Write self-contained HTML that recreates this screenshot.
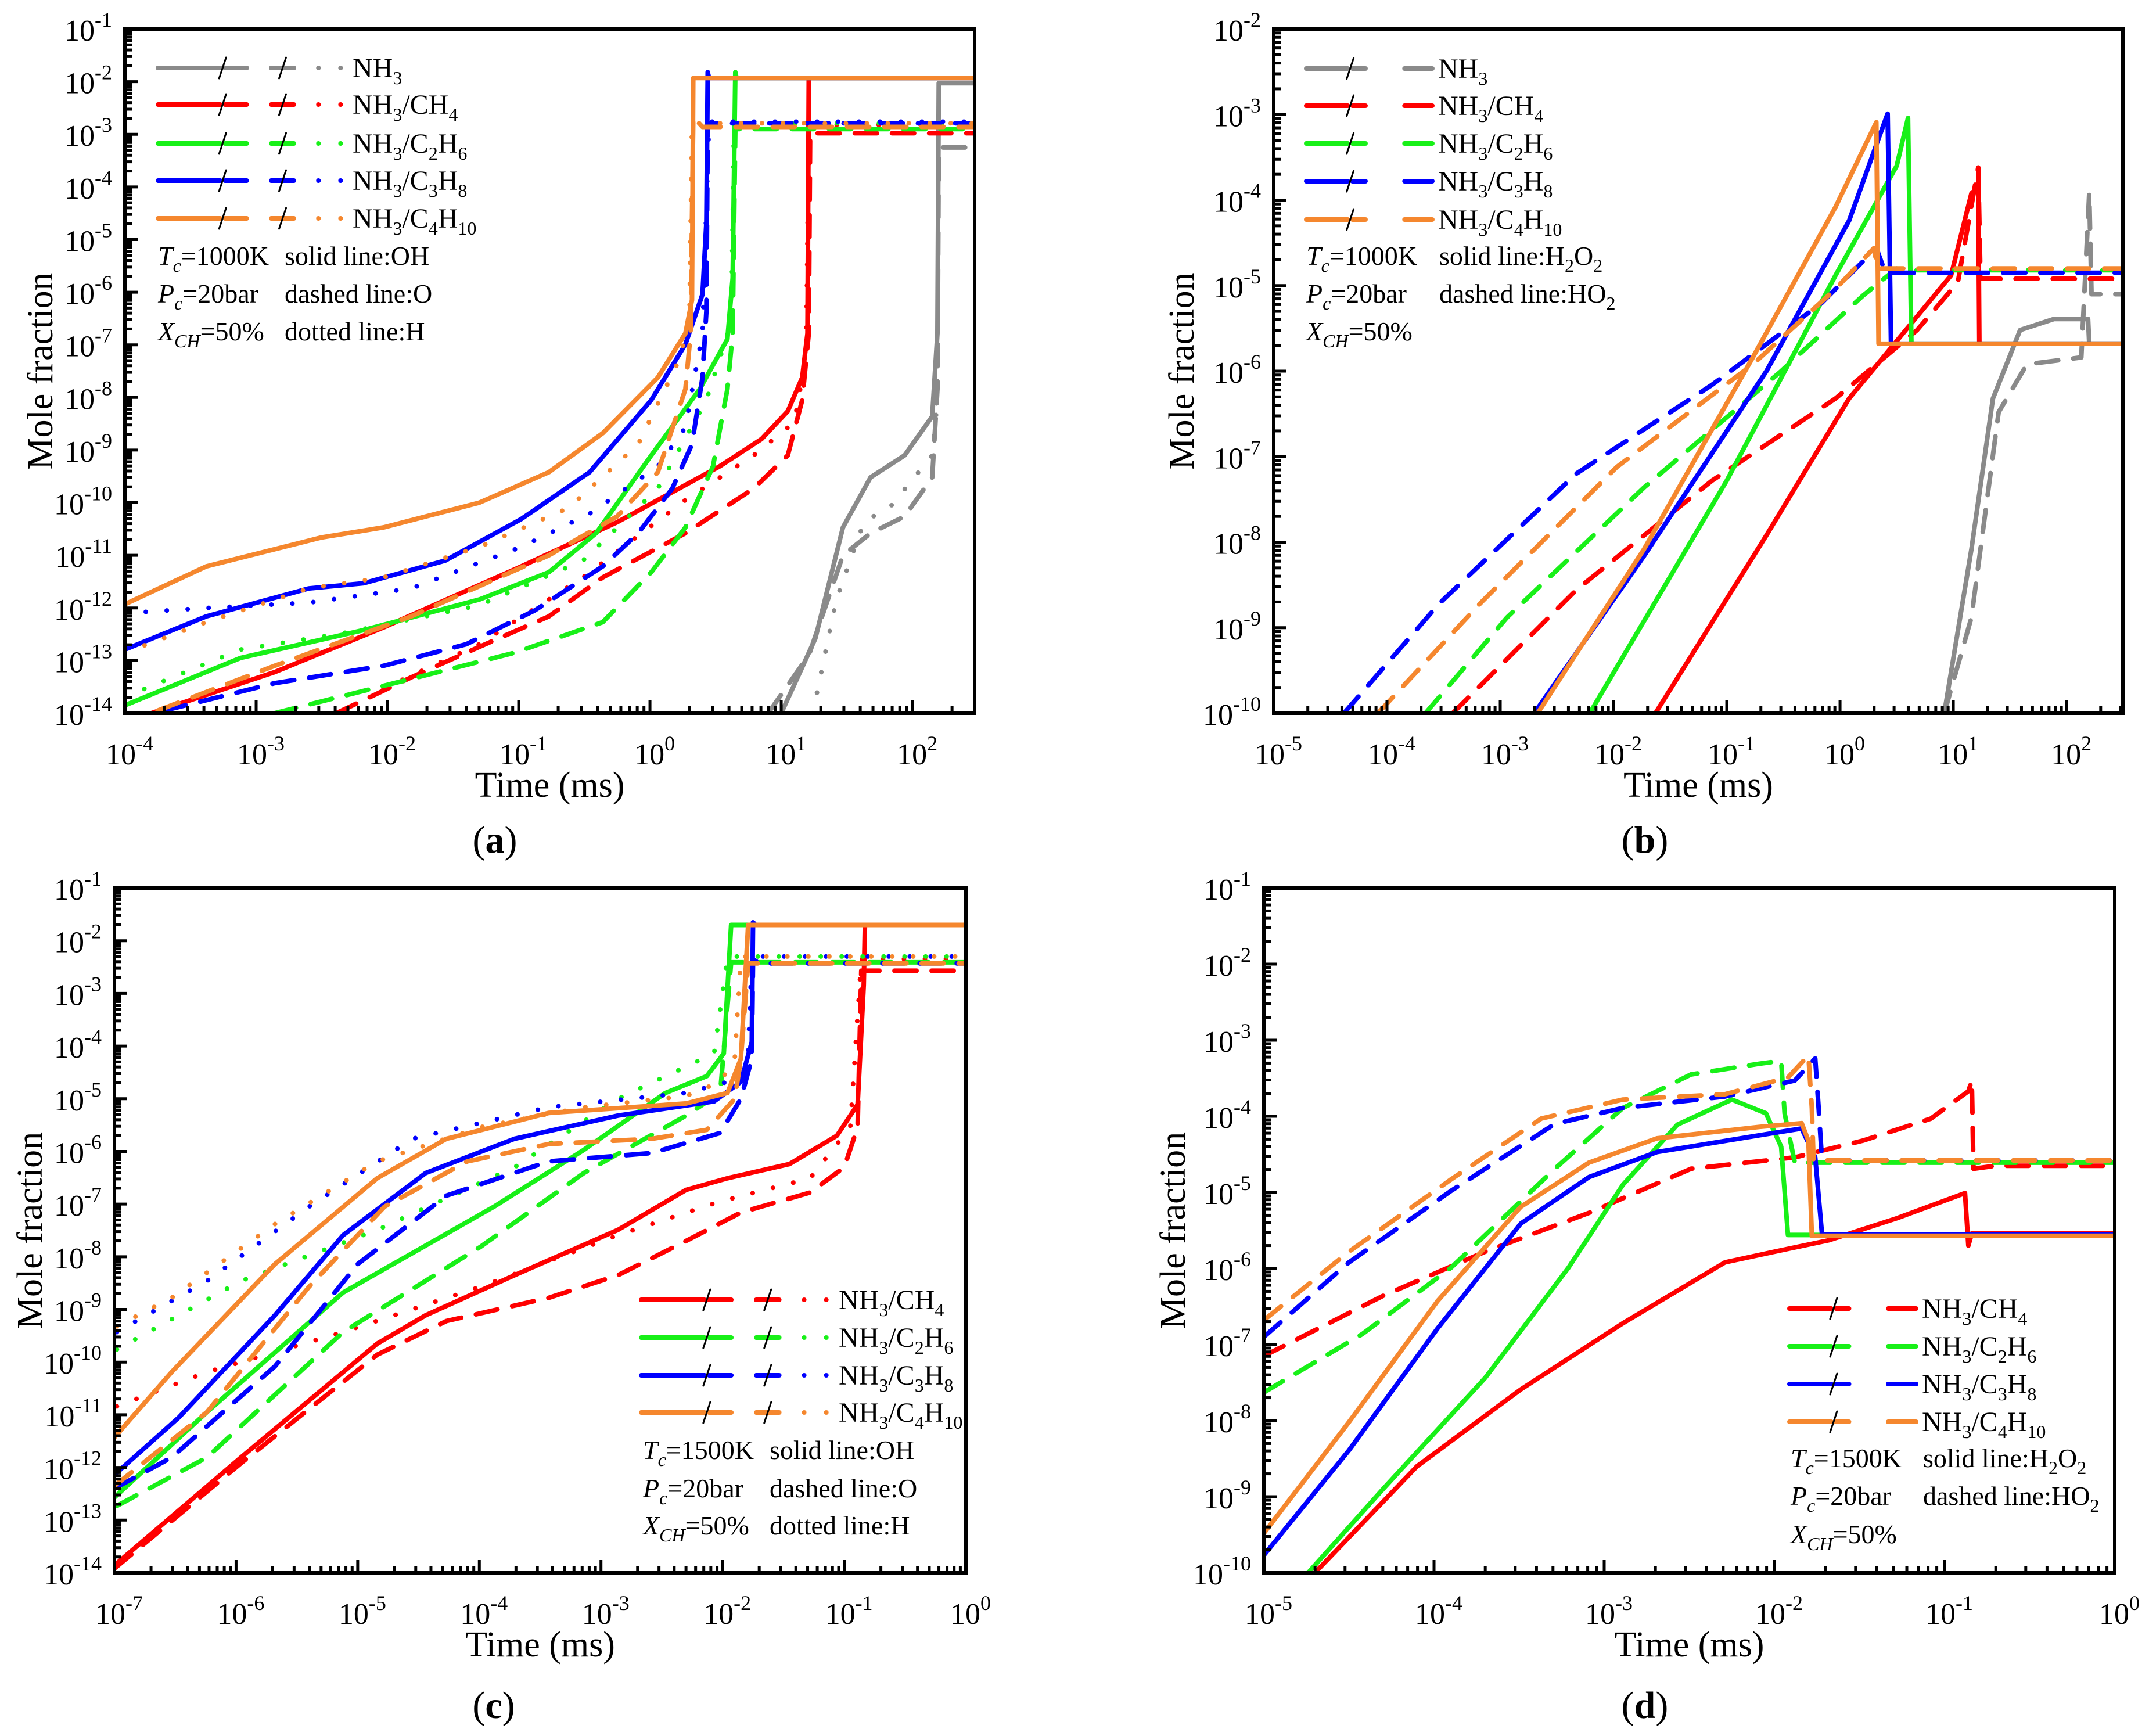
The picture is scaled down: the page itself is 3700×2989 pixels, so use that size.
<!DOCTYPE html>
<html><head><meta charset="utf-8">
<style>
html,body{margin:0;padding:0;background:#fff;}
svg,svg text{font-family:"Liberation Serif",serif;}
svg{display:block;}
</style></head>
<body>
<svg id="fig" xmlns="http://www.w3.org/2000/svg" width="3700" height="2989" viewBox="0 0 3700 2989" font-family="Liberation Serif, serif"></svg>
<script>
// ===== Panel (a): OH (solid), O (dashed), H (dotted), Tc=1000K; values are [log10 t(ms), log10 X]
const a_NH3_OH=[[1.0,-14],[1.26,-12.58],[1.47,-10.47],[1.68,-9.52],[1.94,-9.1],[2.15,-8.36],[2.19,-6.78],[2.2,-2.03],[2.5,-2.03]];
const a_NH3_O=[[0.9,-14],[1.21,-12.9],[1.47,-11.0],[1.68,-10.58],[1.94,-10.26],[2.15,-9.52],[2.19,-7.84],[2.2,-3.25],[2.5,-3.25]];
const a_NH3_H=[[1.24,-14],[1.42,-11.84],[1.63,-10.37],[1.84,-10.05],[2.15,-9.1],[2.19,-8.05]];
const a_CH4_OH=[[-3.8,-14],[-2.86,-13.22],[-2.03,-12.37],[-0.98,-11.21],[-0.25,-10.37],[0.53,-9.31],[0.85,-8.79],[1.05,-8.26],[1.16,-7.62],[1.2,-6.78],[1.21,-1.93],[2.5,-1.93]];
const a_CH4_O=[[-2.39,-14],[-1.82,-13.32],[-1.3,-12.74],[-0.77,-12.16],[-0.36,-11.42],[0.27,-10.58],[0.79,-9.73],[1.05,-9.1],[1.16,-8.05],[1.21,-6.78],[1.22,-2.98],[2.5,-2.98]];
const a_CH4_H=[[-2.03,-13.53],[-1.3,-12.69],[-0.51,-11.42],[0.27,-9.95],[0.79,-9.1],[1.1,-8.47],[1.19,-7.2],[1.21,-2.82],[2.5,-2.82]];
const a_C2H6_OH=[[-4,-13.85],[-3.12,-12.95],[-2.18,-12.42],[-1.3,-11.84],[-0.77,-11.32],[-0.41,-10.58],[0.01,-9.1],[0.38,-7.84],[0.59,-6.89],[0.63,-5.73],[0.65,-1.82],[0.66,-1.93],[2.5,-1.93]];
const a_C2H6_O=[[-2.86,-14],[-2.03,-13.48],[-1.03,-12.85],[-0.36,-12.27],[0.01,-11.32],[0.27,-10.47],[0.48,-9.31],[0.59,-7.84],[0.63,-6.78],[0.65,-2.9],[2.5,-2.9]];
const a_C2H6_H=[[-4,-13.69],[-3.12,-12.79],[-2.34,-12.48],[-1.3,-11.95],[-0.51,-11.1],[0.06,-9.73],[0.43,-8.05],[0.62,-6.57],[0.64,-2.79],[2.5,-2.79]];
const a_C3H8_OH=[[-4,-12.79],[-3.38,-12.16],[-2.6,-11.63],[-2.18,-11.53],[-1.56,-11.1],[-0.98,-10.31],[-0.46,-9.42],[0.01,-8.05],[0.27,-6.99],[0.4,-6.04],[0.43,-4.67],[0.44,-1.82],[0.45,-1.93],[2.5,-1.93]];
const a_C3H8_O=[[-3.7,-13.95],[-2.86,-13.43],[-2.03,-13.1],[-1.4,-12.69],[-0.88,-12.05],[-0.36,-11.21],[-0.09,-10.58],[0.17,-9.73],[0.32,-8.89],[0.4,-7.62],[0.43,-6.36],[0.44,-2.79],[2.5,-2.79]];
const a_C3H8_H=[[-4,-12.1],[-3.38,-12.0],[-2.6,-11.9],[-1.82,-11.63],[-0.98,-10.84],[-0.46,-10.21],[0.06,-9.31],[0.27,-8.57],[0.4,-6.78],[0.45,-2.76],[2.5,-2.76]];
const a_C4H10_OH=[[-4,-11.93],[-3.38,-11.21],[-2.5,-10.66],[-2.03,-10.47],[-1.3,-10.0],[-0.77,-9.42],[-0.36,-8.68],[0.06,-7.62],[0.27,-6.78],[0.32,-6.15],[0.33,-1.93],[2.5,-1.93]];
const a_C4H10_O=[[-3.75,-13.95],[-2.86,-13.1],[-1.82,-12.16],[-0.77,-11.0],[-0.25,-10.26],[0.06,-9.42],[0.27,-7.84],[0.31,-6.78],[0.33,-2.67],[0.4,-2.86],[2.5,-2.86]];
const a_C4H10_H=[[-4,-12.85],[-3.38,-12.27],[-2.6,-11.63],[-2.03,-11.42],[-1.3,-10.84],[-0.62,-10.1],[-0.09,-8.89],[0.22,-7.3],[0.3,-6.57],[0.32,-2.79],[2.5,-2.79]];
// ===== Panel (b): H2O2 (solid), HO2 (dashed), Tc=1000K
const b_NH3_H2O2=[[0.92,-10],[1.16,-8.08],[1.35,-6.32],[1.59,-5.52],[1.89,-5.39],[2.19,-5.39],[2.2,-5.68],[2.5,-5.68]];
const b_NH3_HO2=[[0.92,-10],[1.16,-8.88],[1.4,-6.48],[1.65,-5.92],[2.13,-5.84],[2.2,-3.92],[2.22,-5.1],[2.5,-5.1]];
const b_CH4_H2O2=[[-1.63,-10],[-0.65,-7.92],[0.08,-6.32],[0.68,-5.36],[0.98,-4.88],[1.16,-3.92],[1.22,-3.85],[1.23,-5.68],[2.5,-5.68]];
const b_CH4_HO2=[[-3.42,-10],[-2.33,-8.56],[-1.13,-7.28],[-0.04,-6.32],[0.68,-5.52],[1.04,-4.96],[1.22,-3.62],[1.24,-4.92],[2.5,-4.92]];
const b_C2H6_H2O2=[[-2.21,-10],[-1.0,-7.28],[-0.04,-4.88],[0.5,-3.6],[0.6,-3.04],[0.63,-5.68],[2.5,-5.68]];
const b_C2H6_HO2=[[-3.66,-10],[-2.94,-8.88],[-1.73,-7.36],[-0.52,-6.0],[0.2,-5.12],[0.5,-4.8],[0.6,-4.82],[2.5,-4.82]];
const b_C3H8_H2O2=[[-2.7,-10],[-1.73,-8.16],[-0.65,-6.0],[0.08,-4.24],[0.34,-3.28],[0.42,-2.99],[0.45,-5.68],[2.5,-5.68]];
const b_C3H8_HO2=[[-4.38,-10],[-3.54,-8.72],[-2.33,-7.2],[-1.13,-6.16],[-0.16,-5.2],[0.32,-4.56],[0.4,-4.85],[2.5,-4.85]];
const b_C4H10_H2O2=[[-2.67,-10],[-1.73,-8.08],[-0.77,-5.84],[-0.04,-4.08],[0.32,-3.09],[0.34,-5.68],[2.5,-5.68]];
const b_C4H10_HO2=[[-4.08,-10],[-3.18,-8.72],[-1.97,-7.12],[-0.77,-5.92],[-0.04,-5.04],[0.3,-4.56],[0.33,-4.8],[2.5,-4.8]];
// ===== Panel (c): OH / O / H, Tc=1500K
const c_CH4_OH=[[-7,-13.86],[-5.96,-11.81],[-4.84,-9.65],[-4.44,-9.11],[-3.71,-8.35],[-2.86,-7.49],[-2.3,-6.73],[-1.96,-6.51],[-1.45,-6.24],[-1.06,-5.7],[-0.89,-5.11],[-0.84,-2.84],[-0.83,-1.7],[0,-1.7]];
const c_CH4_O=[[-7,-13.92],[-5.96,-11.92],[-4.84,-9.86],[-4.27,-9.22],[-3.43,-8.78],[-2.86,-8.35],[-2.3,-7.7],[-1.85,-7.16],[-1.28,-6.78],[-1.0,-6.3],[-0.89,-5.54],[-0.86,-2.57],[0,-2.57]];
const c_CH4_H=[[-6.98,-10.84],[-6.24,-10.19],[-5.12,-9.43],[-3.99,-8.57],[-2.86,-7.59],[-2.02,-6.95],[-1.28,-6.51],[-0.95,-5.54],[-0.86,-2.35],[0,-2.35]];
const c_C2H6_OH=[[-7,-12.57],[-6.24,-10.95],[-5.12,-8.68],[-3.88,-7.05],[-3.14,-5.97],[-2.47,-4.89],[-2.13,-4.57],[-1.99,-4.14],[-1.93,-1.7],[0,-1.7]];
const c_C2H6_O=[[-6.98,-12.73],[-6.24,-11.81],[-5.12,-9.43],[-3.99,-7.81],[-3.14,-6.41],[-2.3,-5.32],[-2.02,-4.89],[-1.93,-2.41],[0,-2.41]];
const c_C2H6_H=[[-6.98,-9.76],[-5.96,-8.46],[-4.84,-7.49],[-3.71,-6.3],[-2.86,-5.0],[-2.07,-4.14],[-1.96,-2.3],[0,-2.3]];
const c_C3H8_OH=[[-7,-12.14],[-6.47,-11.05],[-5.68,-9.11],[-5.12,-7.59],[-4.44,-6.41],[-3.71,-5.76],[-2.86,-5.32],[-2.07,-5.05],[-1.85,-4.68],[-1.76,-3.92],[-1.75,-1.65],[-1.73,-1.7],[0,-1.7]];
const c_C3H8_O=[[-7,-12.4],[-6.53,-11.81],[-5.68,-10.08],[-5.0,-8.14],[-4.27,-6.84],[-3.43,-6.19],[-2.58,-6.03],[-2.02,-5.65],[-1.85,-5.0],[-1.76,-4.24],[-1.75,-2.35],[-1.7,-2.43],[0,-2.43]];
const c_C3H8_H=[[-6.98,-9.43],[-6.24,-8.46],[-5.4,-7.05],[-4.55,-5.76],[-3.43,-5.16],[-2.3,-4.89],[-1.96,-4.68],[-1.79,-4.14],[-1.76,-2.3],[0,-2.3]];
const c_C4H10_OH=[[-7,-11.43],[-6.53,-10.19],[-5.68,-8.14],[-4.84,-6.51],[-4.27,-5.76],[-3.43,-5.27],[-2.3,-5.09],[-1.96,-4.89],[-1.85,-4.24],[-1.79,-1.7],[0,-1.7]];
const c_C4H10_O=[[-7,-12.35],[-6.24,-10.95],[-5.4,-8.57],[-4.78,-7.05],[-4.1,-6.19],[-3.43,-5.86],[-2.58,-5.76],[-2.13,-5.59],[-1.9,-5.0],[-1.85,-4.24],[-1.79,-2.43],[0,-2.43]];
const c_C4H10_H=[[-6.98,-9.32],[-6.53,-8.78],[-5.68,-7.38],[-4.84,-6.19],[-3.99,-5.54],[-3.14,-5.16],[-2.3,-4.95],[-2.02,-4.68],[-1.9,-4.24],[-1.85,-2.3],[0,-2.3]];
// ===== Panel (d): H2O2 / HO2, Tc=1500K
const d_CH4_H2O2=[[-4.7,-10],[-4.1,-8.6],[-3.49,-7.59],[-2.89,-6.72],[-2.29,-5.92],[-2.0,-5.78],[-1.68,-5.63],[-1.28,-5.34],[-0.88,-5.01],[-0.86,-5.7],[-0.84,-5.54],[0,-5.54]];
const d_CH4_HO2=[[-5,-7.15],[-4.3,-6.36],[-3.7,-5.78],[-3.09,-5.27],[-2.49,-4.69],[-1.88,-4.54],[-1.48,-4.32],[-1.08,-4.03],[-0.86,-3.67],[-0.84,-3.53],[-0.83,-4.69],[-0.7,-4.65],[0,-4.65]];
const d_C2H6_H2O2=[[-4.74,-10],[-4.3,-8.9],[-3.7,-7.44],[-3.21,-5.99],[-2.89,-4.9],[-2.57,-4.11],[-2.25,-3.78],[-2.05,-3.96],[-1.96,-4.4],[-1.92,-5.56],[0,-5.56]];
const d_C2H6_HO2=[[-5,-7.63],[-4.42,-6.86],[-3.9,-5.99],[-3.29,-4.69],[-2.89,-3.89],[-2.49,-3.45],[-2.09,-3.31],[-1.96,-3.27],[-1.94,-3.96],[-1.88,-4.61],[0,-4.61]];
const d_C3H8_H2O2=[[-5,-9.77],[-4.5,-8.39],[-3.98,-6.79],[-3.49,-5.41],[-3.09,-4.8],[-2.69,-4.47],[-2.09,-4.25],[-1.84,-4.16],[-1.76,-4.54],[-1.72,-5.55],[0,-5.55]];
const d_C3H8_HO2=[[-5,-6.9],[-4.5,-5.92],[-3.9,-4.98],[-3.29,-4.1],[-2.89,-3.89],[-2.29,-3.74],[-1.88,-3.53],[-1.76,-3.24],[-1.74,-3.89],[-1.72,-4.58],[0,-4.58]];
const d_C4H10_H2O2=[[-5,-9.48],[-4.5,-8.02],[-3.98,-6.43],[-3.49,-5.19],[-3.09,-4.61],[-2.69,-4.29],[-2.09,-4.14],[-1.84,-4.09],[-1.8,-4.32],[-1.78,-5.57],[0,-5.57]];
const d_C4H10_HO2=[[-5,-6.68],[-4.5,-5.78],[-3.9,-4.83],[-3.37,-4.03],[-2.89,-3.78],[-2.29,-3.71],[-1.92,-3.49],[-1.8,-3.2],[-1.78,-3.89],[-1.77,-4.58],[0,-4.58]];

const COL={NH3:'#8a8a8a',CH4:'#ff0000',C2H6:'#18f018',C3H8:'#0000ff',C4H10:'#f5872e'};
const DASH={solid:null,dashed:'38 26',dotted:'0.1 36'};
const NS='http://www.w3.org/2000/svg';
const FONT='Liberation Serif, serif';
const svg=document.getElementById('fig');
function mk(tag,attrs,parent){const e=document.createElementNS(NS,tag);for(const k in attrs)e.setAttribute(k,attrs[k]);if(tag==='text')e.setAttribute('font-family',FONT);(parent||svg).appendChild(e);return e;}

function makeAxes(p){
  const g=mk('g',{});
  
  
  const sx=v=>p.x0+(v-p.xmin)/(p.xmax-p.xmin)*(p.x1-p.x0);
  const sy=v=>p.y1-(v-p.ymin)/(p.ymax-p.ymin)*(p.y1-p.y0);
  p.sx=sx;p.sy=sy;p.g=g;
  const cp=mk('clipPath',{id:'clip-'+p.id},g);
  mk('rect',{x:p.x0,y:p.y0,width:p.x1-p.x0,height:p.y1-p.y0},cp);
  p.plot=mk('g',{'clip-path':'url(#clip-'+p.id+')'},g);
  
  
  const tg=mk('g',{stroke:'#000','stroke-width':5},g);
  for(let d=Math.floor(p.xmin);d<=Math.ceil(p.xmax);d++){
    for(let m=1;m<10;m++){const v=d+Math.log10(m);if(v<p.xmin-1e-6||v>p.xmax+1e-6)continue;
      const X=sx(v),L=m===1?22:12;mk('line',{x1:X,x2:X,y1:p.y1,y2:p.y1-L},tg);}
  }
  for(let d=Math.floor(p.ymin);d<=Math.ceil(p.ymax);d++){
    for(let m=1;m<10;m++){const v=d+Math.log10(m);if(v<p.ymin-1e-6||v>p.ymax+1e-6)continue;
      const Y=sy(v),L=m===1?22:12;mk('line',{x1:p.x0,x2:p.x0+L,y1:Y,y2:Y},tg);}
  }
  const fr=mk('rect',{x:p.x0,y:p.y0,width:p.x1-p.x0,height:p.y1-p.y0,fill:'none',stroke:'#000','stroke-width':6},g);
  
  
  for(let d=Math.ceil(p.xmin);d<=Math.floor(p.xmax);d++){
    const t=mk('text',{x:sx(d)+8,y:p.y1+88,'font-size':52,'text-anchor':'middle',fill:'#000'},g);
    
    
    t.appendChild(document.createTextNode('10'));
    const s=mk('tspan',{dy:-24,'font-size':36},t);s.textContent=String(d);
  }
  for(let d=Math.ceil(p.ymin);d<=Math.floor(p.ymax);d++){
    const t=mk('text',{x:p.x0-22,y:sy(d)+20,'font-size':52,'text-anchor':'end',fill:'#000'},g);
    
    
    t.appendChild(document.createTextNode('10'));
    const s=mk('tspan',{dy:-24,'font-size':36},t);s.textContent=String(d);
  }
  const yt=mk('text',{x:p.ytx,y:(p.y0+p.y1)/2,'font-size':62,'text-anchor':'middle',transform:'rotate(-90 '+p.ytx+' '+((p.y0+p.y1)/2)+')'},g);
  
  
  yt.textContent='Mole fraction';
  const xt=mk('text',{x:(p.x0+p.x1)/2,y:p.xty,'font-size':62,'text-anchor':'middle'},g);
  
  
  xt.textContent='Time (ms)';
  const pl=mk('text',{x:p.plx,y:p.ply,'font-size':66,'text-anchor':'middle'},g);
  
  
  pl.appendChild(document.createTextNode('('));
  const b=mk('tspan',{'font-weight':'bold'},pl);b.textContent=p.id;
  pl.appendChild(document.createTextNode(')'));
}
function series(p,data,fuel,style){
  const d=data.map((q,i)=>(i?'L':'M')+p.sx(q[0]).toFixed(1)+' '+p.sy(q[1]).toFixed(1)).join(' ');
  const a={d:d,fill:'none',stroke:COL[fuel],'stroke-width':8,'stroke-linecap':'round','stroke-linejoin':'round'};
  if(DASH[style])a['stroke-dasharray']=DASH[style];
  const e=mk('path',a,p.plot);
  
  
}
function fuelLabel(t,fuel){
  const parts={NH3:[['NH'],['3',1]],CH4:[['NH'],['3',1],['/CH'],['4',1]],C2H6:[['NH'],['3',1],['/C'],['2',1],['H'],['6',1]],
   C3H8:[['NH'],['3',1],['/C'],['3',1],['H'],['8',1]],C4H10:[['NH'],['3',1],['/C'],['4',1],['H'],['10',1]]}[fuel];
  let sub=false;
  parts.forEach(q=>{const s=mk('tspan',{},t);
    if(q[1]&&!sub){s.setAttribute('dy',12);s.setAttribute('font-size',32);sub=true;}
    else if(!q[1]&&sub){s.setAttribute('dy',-12);sub=false;}
    else if(q[1]){s.setAttribute('font-size',32);}
    s.textContent=q[0];});
}
function legend(p,fuels,x0,x1,ys,dots){
  const g=mk('g',{},p.g);
  
  
  fuels.forEach((f,i)=>{
    const y=ys[i],c=COL[f],w=x1-x0;
    const e=mk('g',{stroke:c,'stroke-width':8,'stroke-linecap':'round',fill:'none'},g);
    
    
    const xs=x0+w*0.33,xd=x0+w*0.47;
    mk('line',{x1:x0,x2:xs,y1:y,y2:y},e);
    mk('line',{x1:xs+8,x2:xd,y1:y,y2:y},e);
    if(dots){
      mk('line',{x1:x0+w*0.6,x2:x0+w*0.72,y1:y,y2:y},e);
      mk('line',{x1:x0+w*0.85,x2:x1,y1:y,y2:y,'stroke-dasharray':'0.1 38'},e);
      mk('line',{x1:x0+w*0.66-6,x2:x0+w*0.66+6,y1:y+18,y2:y-18,stroke:'#000','stroke-width':3},e);
    }else{
      mk('line',{x1:x0+w*0.78,x2:x1,y1:y,y2:y},e);
    }
    mk('line',{x1:xs+4-6,x2:xs+4+6,y1:y+18,y2:y-18,stroke:'#000','stroke-width':3},e);
    const t=mk('text',{x:x1+10,y:y+16,'font-size':48,fill:'#000'},g);
    fuelLabel(t,f);
  });
}
function notes(p,x1,x2,ys,T,s1,s2,s3){
  const g=mk('g',{'font-size':46,fill:'#000'},p.g);
  
  
  const lhs=[['T','c','='+T],['P','c','=20bar'],['X','CH','=50%']];
  const rhs=[s1,s2,s3];
  lhs.forEach((l,i)=>{
    const t=mk('text',{x:x1,y:ys[i]},g);
    const a=mk('tspan',{'font-style':'italic'},t);a.textContent=l[0];
    const b=mk('tspan',{'font-style':'italic','font-size':32,dy:12},t);b.textContent=l[1];
    const c=mk('tspan',{dy:-12},t);c.textContent=l[2];
    if(rhs[i]){const r=mk('text',{x:x2,y:ys[i]},g);
      rhs[i].forEach((q,j)=>{const s=mk('tspan',{},r);
        if(q[1]){s.setAttribute('font-size',32);s.setAttribute('dy',12);}else if(j>0&&rhs[i][j-1][1]){s.setAttribute('dy',-12);}
        s.textContent=q[0];});}
  });
}

const PA={id:'a',x0:215,x1:1678,xmin:-4,xmax:2.473,y0:50,y1:1228,ymin:-14,ymax:-1,ytx:90,xty:1372,plx:852,ply:1468};
const PB={id:'b',x0:2193,x1:3655,xmin:-5,xmax:2.497,y0:50,y1:1228,ymin:-10,ymax:-2,ytx:2055,xty:1372,plx:2832,ply:1468};
const PC={id:'c',x0:197,x1:1663,xmin:-7,xmax:0,y0:1529,y1:2708,ymin:-14,ymax:-1,ytx:72,xty:2852,plx:850,ply:2958};
const PD={id:'d',x0:2176,x1:3641,xmin:-5,xmax:0,y0:1529,y1:2708,ymin:-10,ymax:-1,ytx:2040,xty:2852,plx:2832,ply:2958};
[PA,PB,PC,PD].forEach(makeAxes);

[['NH3',a_NH3_O,'dashed'],['NH3',a_NH3_H,'dotted'],['NH3',a_NH3_OH,'solid'],
 ['CH4',a_CH4_O,'dashed'],['CH4',a_CH4_H,'dotted'],['CH4',a_CH4_OH,'solid'],
 ['C2H6',a_C2H6_O,'dashed'],['C2H6',a_C2H6_H,'dotted'],['C2H6',a_C2H6_OH,'solid'],
 ['C3H8',a_C3H8_O,'dashed'],['C3H8',a_C3H8_H,'dotted'],['C3H8',a_C3H8_OH,'solid'],
 ['C4H10',a_C4H10_O,'dashed'],['C4H10',a_C4H10_H,'dotted'],['C4H10',a_C4H10_OH,'solid']].forEach(s=>series(PA,s[1],s[0],s[2]));
[['NH3',b_NH3_HO2,'dashed'],['NH3',b_NH3_H2O2,'solid'],['CH4',b_CH4_HO2,'dashed'],['CH4',b_CH4_H2O2,'solid'],
 ['C2H6',b_C2H6_HO2,'dashed'],['C2H6',b_C2H6_H2O2,'solid'],['C3H8',b_C3H8_HO2,'dashed'],['C3H8',b_C3H8_H2O2,'solid'],
 ['C4H10',b_C4H10_HO2,'dashed'],['C4H10',b_C4H10_H2O2,'solid']].forEach(s=>series(PB,s[1],s[0],s[2]));
[['CH4',c_CH4_O,'dashed'],['CH4',c_CH4_H,'dotted'],['CH4',c_CH4_OH,'solid'],
 ['C2H6',c_C2H6_O,'dashed'],['C2H6',c_C2H6_H,'dotted'],['C2H6',c_C2H6_OH,'solid'],
 ['C3H8',c_C3H8_O,'dashed'],['C3H8',c_C3H8_H,'dotted'],['C3H8',c_C3H8_OH,'solid'],
 ['C4H10',c_C4H10_O,'dashed'],['C4H10',c_C4H10_H,'dotted'],['C4H10',c_C4H10_OH,'solid']].forEach(s=>series(PC,s[1],s[0],s[2]));
[['CH4',d_CH4_HO2,'dashed'],['CH4',d_CH4_H2O2,'solid'],['C2H6',d_C2H6_HO2,'dashed'],['C2H6',d_C2H6_H2O2,'solid'],
 ['C3H8',d_C3H8_HO2,'dashed'],['C3H8',d_C3H8_H2O2,'solid'],['C4H10',d_C4H10_HO2,'dashed'],['C4H10',d_C4H10_H2O2,'solid']].forEach(s=>series(PD,s[1],s[0],s[2]));

legend(PA,['NH3','CH4','C2H6','C3H8','C4H10'],272,597,[117,180,247,311,376],true);
notes(PA,272,490,[456,521,586],'1000K',[['solid line:OH']],[['dashed line:O']],[['dotted line:H']]);
legend(PB,['NH3','CH4','C2H6','C3H8','C4H10'],2249,2466,[118,182,247,312,378],false);
notes(PB,2249,2478,[456,521,586],'1000K',[['solid line:H'],['2',1],['O'],['2',1]],[['dashed line:HO'],['2',1]],null);
legend(PC,['CH4','C2H6','C3H8','C4H10'],1104,1434,[2238,2303,2368,2432],true);
notes(PC,1107,1325,[2512,2578,2642],'1500K',[['solid line:OH']],[['dashed line:O']],[['dotted line:H']]);
legend(PD,['CH4','C2H6','C3H8','C4H10'],3081,3299,[2253,2318,2383,2448],false);
notes(PD,3083,3311,[2526,2591,2657],'1500K',[['solid line:H'],['2',1],['O'],['2',1]],[['dashed line:HO'],['2',1]],null);
</script>
</body></html>
